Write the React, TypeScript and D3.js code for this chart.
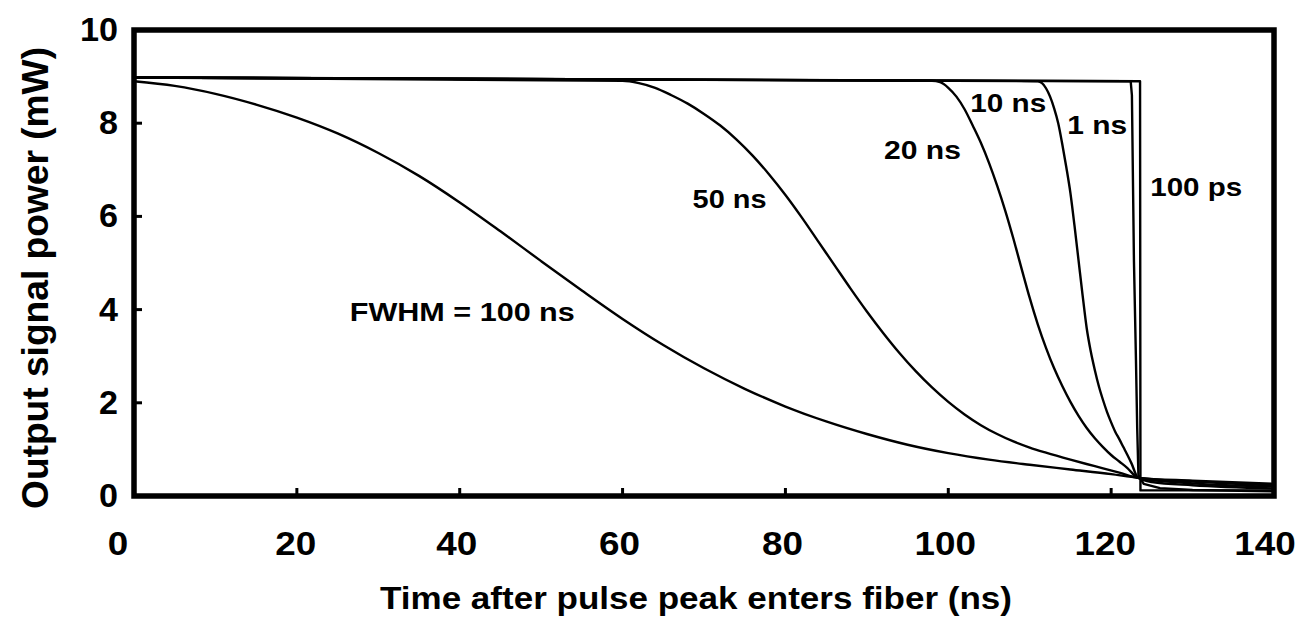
import React from "react";
import * as d3 from "d3";

// ---- data (time in ns, power in mW) ----
const xTicks = [0, 20, 40, 60, 80, 100, 120, 140];
const yTicks = [0, 2, 4, 6, 8, 10];

const fwhm100ns: [number, number][] = [
  [0, 8.9], [5, 8.8], [10, 8.63], [15, 8.4], [20, 8.12], [25, 7.78], [30, 7.36], [35, 6.87],
  [40, 6.3], [45, 5.68], [50, 5.04], [55, 4.41], [60, 3.8], [65, 3.24], [70, 2.74], [75, 2.3],
  [80, 1.92], [85, 1.6], [90, 1.33], [95, 1.1], [100, 0.92], [105, 0.78], [110, 0.67],
  [115, 0.57], [120, 0.47], [123.3, 0.39], [130, 0.33], [140, 0.26],
];
const fwhm50ns: [number, number][] = [
  [0, 8.98], [60, 8.91], [62, 8.86], [64, 8.76], [66, 8.6], [68, 8.42], [70, 8.2], [72, 7.95],
  [74, 7.65], [76, 7.3], [78, 6.9], [80, 6.46], [82, 5.98], [84, 5.47], [86, 4.96], [88, 4.45],
  [90, 3.96], [92, 3.5], [94, 3.07], [96, 2.68], [98, 2.33], [100, 2.02], [102, 1.75], [104, 1.52],
  [106, 1.33], [108, 1.17], [110, 1.04], [112, 0.93], [115, 0.78], [118, 0.64], [121, 0.5],
  [123.3, 0.39], [130, 0.31], [140, 0.23],
];
const fwhm20ns: [number, number][] = [
  [0, 8.98], [98, 8.91], [99, 8.88], [100, 8.76], [101, 8.57], [102, 8.3], [103, 7.95], [104, 7.58],
  [105, 7.15], [106, 6.66], [107, 6.12], [108, 5.52], [109, 4.88], [110, 4.25], [111, 3.68],
  [112, 3.18], [113, 2.74], [114, 2.36], [115, 2.02], [116, 1.72], [117, 1.46], [118, 1.24],
  [119, 1.05], [120, 0.88], [121, 0.74], [122, 0.6], [123.3, 0.39], [130, 0.27], [140, 0.2],
];
const fwhm10ns: [number, number][] = [
  [0, 8.98], [111, 8.9], [112, 8.75], [112.5, 8.57], [113, 8.32], [113.5, 8.0], [114, 7.55],
  [114.5, 7.05], [115, 6.5], [115.5, 5.8], [116, 5.05], [116.5, 4.3], [117, 3.6], [117.5, 3.1],
  [118, 2.7], [118.5, 2.35], [119, 2.06], [119.5, 1.8], [120, 1.58], [120.5, 1.38], [121, 1.22],
  [121.5, 1.05], [122, 0.88], [122.5, 0.7], [123.3, 0.39], [125, 0.3], [130, 0.23], [140, 0.16],
];
const fwhm1ns: [number, number][] = [
  [0, 8.98], [122.4, 8.9], [122.55, 8.6], [122.8, 5.05], [123.05, 2.9], [123.2, 1.46],
  [123.35, 0.45], [124, 0.26], [126, 0.17], [130, 0.13], [140, 0.1],
];
const fwhm100ps: [number, number][] = [
  [0, 8.98], [123.55, 8.9], [123.6, 0.12], [140, 0.12],
];

const seriesData = [fwhm100ns, fwhm50ns, fwhm20ns, fwhm10ns, fwhm1ns, fwhm100ps];
const seriesSmooth = [true, true, true, true, false, false];

const labelTexts = ["FWHM = 100 ns", "50 ns", "20 ns", "10 ns", "1 ns", "100 ps"];
const labelAnchors: [number, number][] = [
  [26.5, 3.76], [68.6, 6.19], [92.1, 7.23], [102.7, 8.24], [114.6, 7.76], [124.8, 6.43],
];

// ---- styling / layout ----
const W = 1309;
const H = 630;
const PLOT = { left: 134, right: 1274, top: 30, bottom: 496 };
const FONT = "'Liberation Sans', Arial, Helvetica, sans-serif";
const labelWidths = [225, 74, 77, 76, 60, 92];
const xTickDx = [-16, -1, -3, -3, -3, -3, -6, -9];

export default function App() {
  const x = d3.scaleLinear().domain([0, 140]).range([PLOT.left, PLOT.right]);
  const y = d3.scaleLinear().domain([0, 10]).range([PLOT.bottom, PLOT.top]);

  const smoothLine = d3
    .line<[number, number]>()
    .x((d) => x(d[0]))
    .y((d) => y(d[1]))
    .curve(d3.curveMonotoneX);
  const straightLine = d3
    .line<[number, number]>()
    .x((d) => x(d[0]))
    .y((d) => y(d[1]))
    .curve(d3.curveLinear);

  return (
    <svg
      width={W}
      height={H}
      style={{ position: "absolute", left: 0, top: 0, display: "block", background: "#fff" }}
      fontFamily={FONT}
    >
      <rect x={0} y={0} width={W} height={H} fill="#fff" />

      {/* curves */}
      <g fill="none" stroke="#000" strokeWidth={2.4} strokeLinejoin="round" strokeLinecap="round">
        {seriesData.map((d, i) => (
          <path key={i} d={(seriesSmooth[i] ? smoothLine : straightLine)(d) || ""} />
        ))}
      </g>

      {/* frame */}
      <rect
        x={PLOT.left}
        y={PLOT.top}
        width={PLOT.right - PLOT.left}
        height={PLOT.bottom - PLOT.top}
        fill="none"
        stroke="#000"
        strokeWidth={5.5}
      />

      {/* ticks */}
      <g stroke="#000" strokeWidth={3}>
        {yTicks
          .filter((t) => t > 0 && t < 10)
          .map((t) => (
            <line key={"yt" + t} x1={x(0)} x2={x(0) + 8} y1={y(t)} y2={y(t)} />
          ))}
        {xTicks
          .filter((t) => t > 0 && t < 140)
          .map((t) => (
            <line key={"xt" + t} x1={x(t)} x2={x(t)} y1={y(0)} y2={y(0) - 8} />
          ))}
      </g>

      {/* tick labels */}
      <g fontSize={34} fontWeight="bold" fill="#000">
        {yTicks.map((t) => (
          <text
            key={"yl" + t}
            x={118}
            y={y(t) + 11}
            textAnchor="end"
            textLength={String(t).length * 19}
            lengthAdjust="spacingAndGlyphs"
          >
            {t}
          </text>
        ))}
        {xTicks.map((t, i) => (
          <text
            key={"xl" + t}
            x={x(t) + xTickDx[i]}
            y={555}
            textAnchor="middle"
            textLength={String(t).length * 20.5}
            lengthAdjust="spacingAndGlyphs"
          >
            {t}
          </text>
        ))}
      </g>

      {/* curve labels */}
      <g fontSize={26} fontWeight="bold" fill="#000">
        {labelTexts.map((s, i) => (
          <text
            key={s}
            x={x(labelAnchors[i][0])}
            y={y(labelAnchors[i][1])}
            textLength={labelWidths[i]}
            lengthAdjust="spacingAndGlyphs"
          >
            {s}
          </text>
        ))}
      </g>

      {/* axis titles */}
      <text
        x={696}
        y={609}
        textAnchor="middle"
        fontSize={31}
        fontWeight="bold"
        textLength={632}
        lengthAdjust="spacingAndGlyphs"
      >
        Time after pulse peak enters fiber (ns)
      </text>
      <text
        transform="translate(48,278) rotate(-90)"
        textAnchor="middle"
        fontSize={36}
        fontWeight="bold"
        textLength={462}
        lengthAdjust="spacingAndGlyphs"
      >
        Output signal power (mW)
      </text>
    </svg>
  );
}
